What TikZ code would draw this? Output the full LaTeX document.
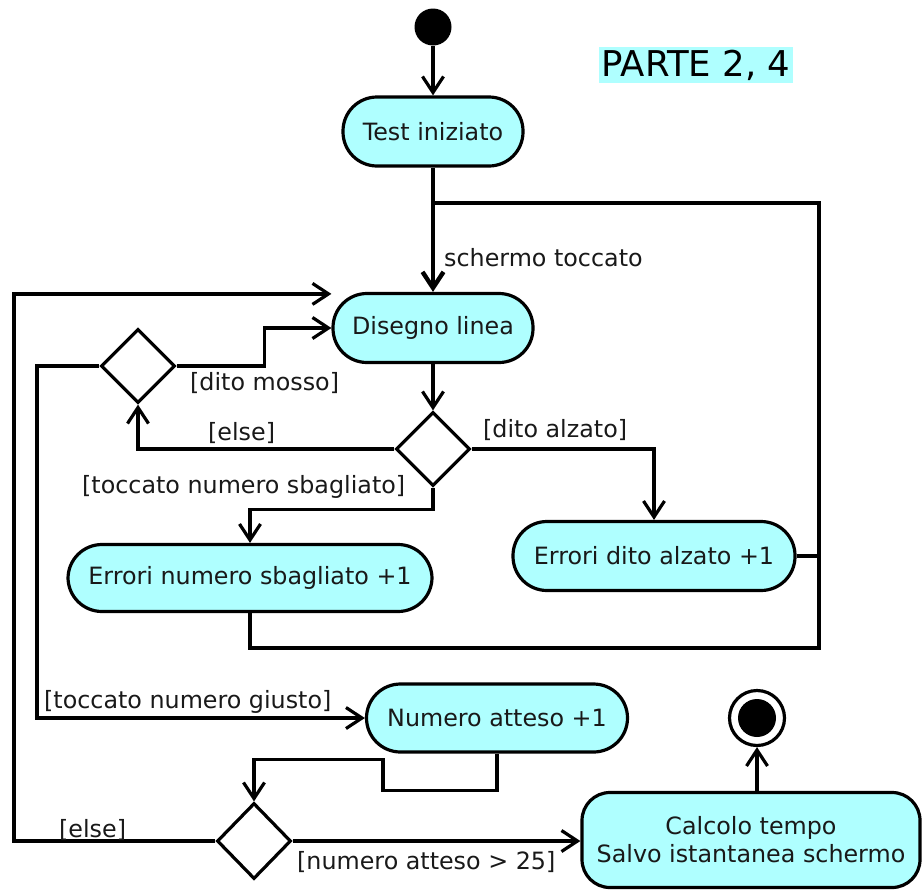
\documentclass[tikz,border=0pt]{standalone}
\usepackage{fontspec}
\setmainfont{DejaVu Sans}
\usetikzlibrary{shapes.geometric,arrows.meta}
\definecolor{actfill}{RGB}{175,255,255}
\definecolor{ink}{RGB}{25,25,25}
\begin{document}
\begin{tikzpicture}[x=1pt,y=-1pt,
  every node/.style={font=\fontsize{23.8}{28}\selectfont, text=ink},
  act/.style={draw, line width=3.2pt, fill=actfill, rounded corners=34pt,
    minimum height=69pt, inner sep=0pt},
  choice/.style={draw, diamond, line width=3.2pt, minimum width=74pt,
    minimum height=74pt, inner sep=0pt, fill=white},
  link/.style={line width=3.2pt},
  flow/.style={link, -{Straight Barb[length=16pt,width=21pt]}},
  lbl/.style={inner sep=0pt, anchor=west}
]
\useasboundingbox (0,0) rectangle (923,889);

% title
\node[fill=actfill, font=\fontsize{35.5}{40}\selectfont, inner sep=3pt, text=black] (title) at (696,65) {PARTE 2, 4};

% activities and decisions
\node[circle, fill=black, minimum size=37pt, inner sep=0pt] (start) at (433,27) {};
\node[act, minimum width=180pt] (test) at (433,131.5) {Test iniziato};
\node[act, minimum width=200pt] (dis) at (433,328) {Disegno linea};
\node[choice] (d1) at (433,449) {};
\node[choice] (d0) at (138,366) {};
\node[act, minimum width=282pt] (edit) at (654,556) {Errori dito alzato +1};
\node[act, minimum width=364pt, minimum height=67pt] (ens) at (250,578) {Errori numero sbagliato +1};
\node[act, minimum width=261pt, minimum height=68pt] (num) at (497,718) {Numero atteso +1};
\node[choice, minimum height=76pt] (d2) at (254,841) {};
\node[act, minimum width=338pt, minimum height=95pt, rounded corners=28pt, align=center] (calc) at (751,840) {Calcolo tempo\\Salvo istantanea schermo};
\node[circle, draw, line width=3.2pt, fill=white, minimum size=55pt, inner sep=0pt] (fin) at (757,718) {};
\node[circle, fill=black, minimum size=38pt, inner sep=0pt] (findot) at (fin.center) {};

% flow
\coordinate (merge) at (433,203);
\coordinate (loopbr) at (819,648);
\coordinate (outer) at (14,0);
\draw[flow] (start) -- (test);
\draw[link] (test) -- (merge);
\draw[flow, line width=4.4pt] (merge) -- (dis);
\draw[flow] (dis) -- (d1);
\draw[flow] (d1.east) -| (edit.north);
\draw[flow] (d1.west) -| (d0.south);
\draw[flow] (d1.south) -- ++(0,22) -| (ens.north);
\draw[flow] (d0.east) -- ++(88,0) |- (dis.west);
\draw[flow] (d0.west) -- (37,366) |- (num.west);
\draw[link] (edit.east) -- (edit.east -| loopbr);
\draw[link] (ens.south) |- (loopbr) -- (loopbr |- merge) -- (merge);
\draw[flow] (num.south) -- ++(0,37) -- ++(-114,0) -- ++(0,-31) -| (d2.north);
\draw[flow] (d2.west) -- (d2.west -| outer) |- ([yshift=-2pt]dis.north west);
\draw[flow] (d2.east) -- (d2.east -| calc.west);
\draw[flow] (calc.north -| fin) -- (fin.south);

% guards
\node[lbl] (lsch) at (444,258) {schermo toccato};
\node[lbl] (lmosso) at (190,383) {[dito mosso]};
\node[lbl] (lelse1) at (208,433) {[else]};
\node[lbl] (lalz) at (483,430) {[dito alzato]};
\node[lbl] (lsbag) at (82,487) {[toccato numero sbagliato]};
\node[lbl] (lgiusto) at (44,702) {[toccato numero giusto]};
\node[lbl] (lelse2) at (59,830) {[else]};
\node[lbl] (l25) at (297,862) {[numero atteso > 25]};
\end{tikzpicture}
\end{document}
